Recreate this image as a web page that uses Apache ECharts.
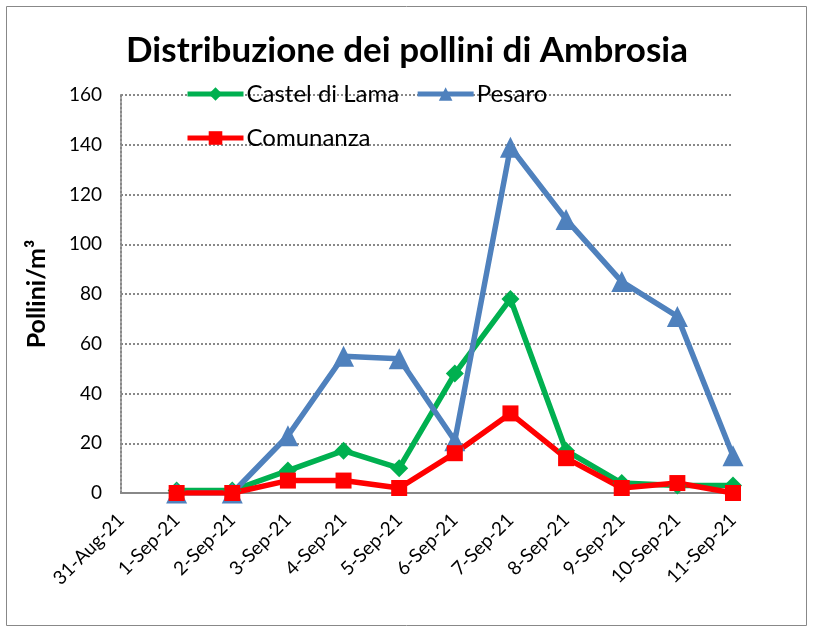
<!DOCTYPE html>
<html><head><meta charset="utf-8">
<script src="https://cdn.jsdelivr.net/npm/echarts@6/dist/echarts.min.js"></script>
<style>html,body{margin:0;padding:0;background:#fff}#c{width:814px;height:635px}</style>
</head><body><div id="c"></div>
<script>
const categories = ['31-Aug-21','1-Sep-21','2-Sep-21','3-Sep-21','4-Sep-21','5-Sep-21','6-Sep-21','7-Sep-21','8-Sep-21','9-Sep-21','10-Sep-21','11-Sep-21'];
const castelDiLama = [null, 1, 1, 9, 17, 10, 48, 78, 17, 4, 3, 3];
const pesaro = [null, 0, 0, 23, 55, 54, 21, 139, 110, 85, 71, 15];
const comunanza = [null, 0, 0, 5, 5, 2, 16, 32, 14, 2, 4, 0];
const yTicks = [0, 20, 40, 60, 80, 100, 120, 140, 160];

const FONT = 'Lato, "Liberation Sans", sans-serif';
const chart = echarts.init(document.getElementById('c'), null, {renderer: 'canvas'});
function ser(name, data, color, symbol, size) {
  return {name, type: 'line', data, connectNulls: false, symbol, symbolSize: size,
    lineStyle: {color, width: 5.5}, itemStyle: {color}, color, z: 2};
}
const legendText = {fontFamily: FONT, fontSize: 24, color: '#000', padding: [0, 0, 0, -2]};
chart.setOption({
  animation: false,
  title: {text: 'Distribuzione dei pollini di Ambrosia', left: 'center', top: 28,
    textStyle: {fontFamily: FONT, fontWeight: 'bold', fontSize: 35, color: '#000'}},
  graphic: [{type: 'rect', shape: {x: 6.5, y: 6.5, width: 800, height: 619},
    style: {fill: 'none', stroke: '#888', lineWidth: 1}, z: -1}],
  legend: [
    {data: ['Castel di Lama', 'Pesaro'], left: 185, top: 82, padding: 0, itemWidth: 56, itemHeight: 17, itemGap: 16,
      lineStyle: {width: 5}, textStyle: legendText},
    {data: ['Comunanza'], left: 185, top: 126, padding: 0, itemWidth: 56, itemHeight: 17,
      lineStyle: {width: 5}, textStyle: legendText}
  ],
  grid: {left: 121, right: 81, top: 95, bottom: 142, containLabel: false},
  xAxis: {type: 'category', data: categories, boundaryGap: false,
    axisLine: {lineStyle: {color: '#888', width: 2}}, axisTick: {show: false},
    axisLabel: {rotate: 45, fontFamily: FONT, fontSize: 19, color: '#000', margin: 24, interval: 0}},
  yAxis: {type: 'value', min: 0, max: 160, interval: 20,
    name: 'Pollini/m³', nameLocation: 'middle', nameGap: 72, nameRotate: 90,
    nameTextStyle: {fontFamily: FONT, fontWeight: 'bold', fontSize: 25, color: '#000'},
    axisLine: {show: true, lineStyle: {color: '#888', type: 'dotted', width: 2}}, axisTick: {show: false},
    axisLabel: {fontFamily: FONT, fontSize: 19, color: '#000', margin: 19,
      formatter: v => yTicks.includes(v) ? String(v) : ''},
    splitLine: {lineStyle: {color: '#888', type: 'dotted', width: 2}}},
  series: [
    ser('Castel di Lama', castelDiLama, '#00B050', 'diamond', 18),
    ser('Pesaro', pesaro, '#4F81BD', 'triangle', 21),
    ser('Comunanza', comunanza, '#FF0000', 'rect', 16)
  ]
});
</script></body></html>
